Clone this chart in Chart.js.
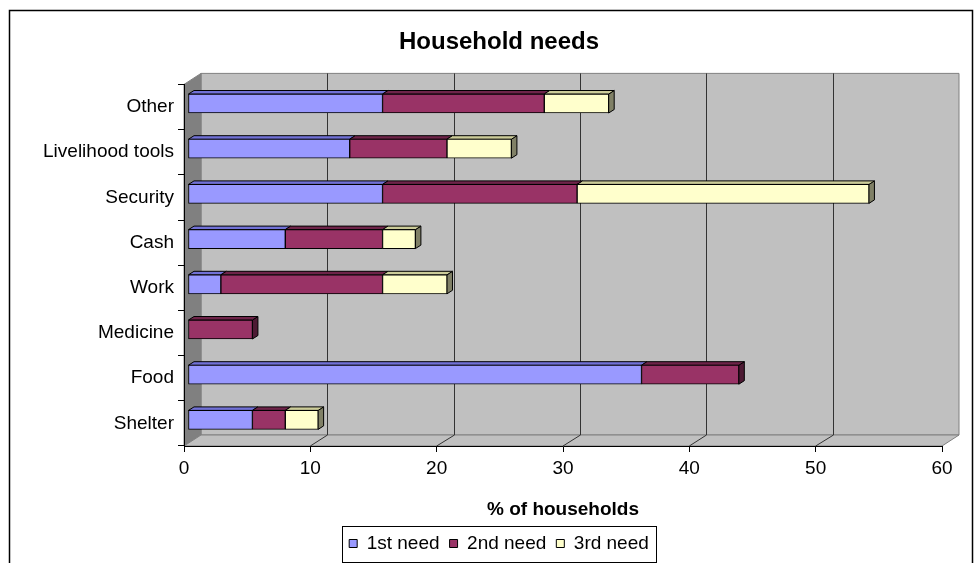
<!DOCTYPE html>
<html>
<head>
<meta charset="utf-8">
<title>Household needs</title>
<script src="https://cdn.jsdelivr.net/npm/chart.js@4.4.1/dist/chart.umd.min.js"></script>
<style>
  html, body { margin: 0; padding: 0; background: #fff; }
  #wrap { width: 976px; height: 563px; }
</style>
</head>
<body>
<div id="wrap"><canvas id="needsChart" width="976" height="563"></canvas></div>
<script>
// % of households naming each need, top row first
var categories = ["Other", "Livelihood tools", "Security", "Cash", "Work", "Medicine", "Food", "Shelter"];
var firstNeed = [15.4, 12.8, 15.4, 7.7, 2.6, 0, 35.9, 5.1];
var secondNeed = [12.8, 7.7, 15.4, 7.7, 12.8, 5.1, 7.7, 2.6];
var thirdNeed = [5.1, 5.1, 23.1, 2.6, 5.1, 0, 0, 2.6];
var seriesNames = ["1st need", "2nd need", "3rd need"];
var xTicks = [0, 10, 20, 30, 40, 50, 60];

var fills = ["#9999FF", "#993366", "#FFFFCC"];
var topFills = ["#7171D6", "#6E2449", "#CCCC99"];
var sideFills = ["#4C4C99", "#4D1A33", "#808066"];

var wallDepth = { x: 17, y: -11 };
var barShift = { x: 4, y: -3.5 };
var barDepth = { x: 5.5, y: -3.5 };
var fontFamily = "'Liberation Sans', Arial, sans-serif";

function poly(ctx, pts, fill, stroke) {
  ctx.beginPath();
  ctx.moveTo(pts[0][0], pts[0][1]);
  for (var i = 1; i < pts.length; i++) ctx.lineTo(pts[i][0], pts[i][1]);
  ctx.closePath();
  if (fill) { ctx.fillStyle = fill; ctx.fill(); }
  if (stroke) { ctx.strokeStyle = stroke; ctx.stroke(); }
}

// frame, walls, floor and back gridlines
var room = {
  id: "room",
  beforeDraw: function (chart) {
    var ctx = chart.ctx;
    var x = chart.scales.x;
    var area = chart.chartArea;
    var dx = wallDepth.x, dy = wallDepth.y;
    var x0 = x.getPixelForValue(xTicks[0]);
    var x1 = x.getPixelForValue(xTicks[xTicks.length - 1]);
    var top = area.top, bottom = area.bottom;

    ctx.save();
    ctx.fillStyle = "#fff";
    ctx.fillRect(0, 0, chart.width, chart.height);
    ctx.strokeStyle = "#000";
    ctx.lineWidth = 1.5;
    ctx.strokeRect(9.5, 10.5, 963, 620);

    ctx.lineWidth = 1;
    poly(ctx, [[x0 + dx, top + dy], [x1 + dx, top + dy], [x1 + dx, bottom + dy], [x0 + dx, bottom + dy]], "#C0C0C0", "#808080");
    poly(ctx, [[x0, top], [x0 + dx, top + dy], [x0 + dx, bottom + dy], [x0, bottom]], "#808080", "#808080");
    poly(ctx, [[x0, bottom], [x0 + dx, bottom + dy], [x1 + dx, bottom + dy], [x1, bottom]], "#C0C0C0", "#808080");

    ctx.strokeStyle = "#333";
    xTicks.slice(1, -1).forEach(function (v) {
      var px = x.getPixelForValue(v);
      var bx = Math.round(px + dx) + 0.5;
      ctx.beginPath();
      ctx.moveTo(bx, top + dy);
      ctx.lineTo(bx, bottom + dy);
      ctx.moveTo(px, bottom);
      ctx.lineTo(bx, bottom + dy);
      ctx.stroke();
    });
    ctx.restore();
  },
  // bar tops and end faces, bars sit a little behind the axis plane
  beforeDatasetsDraw: function (chart) {
    var ctx = chart.ctx;
    var metas = chart.data.datasets.map(function (d, i) { return chart.getDatasetMeta(i); });
    var bx = barDepth.x, by = barDepth.y;
    ctx.save();
    ctx.translate(barShift.x, barShift.y);
    ctx.lineWidth = 1;
    for (var j = 0; j < categories.length; j++) {
      var last = -1;
      metas.forEach(function (m, i) {
        var el = m.data[j];
        if (Math.abs(el.x - el.base) > 0.5) last = i;
      });
      if (last >= 0) {
        var e = metas[last].data[j];
        var t = e.y - e.height / 2, b = e.y + e.height / 2;
        var r = Math.max(e.x, e.base);
        poly(ctx, [[r, t], [r + bx, t + by], [r + bx, b + by], [r, b]], sideFills[last], "#000");
      }
      metas.forEach(function (m, i) {
        var el = m.data[j];
        if (Math.abs(el.x - el.base) <= 0.5) return;
        var t = el.y - el.height / 2;
        var l = Math.min(el.x, el.base), r = Math.max(el.x, el.base);
        poly(ctx, [[l, t], [l + bx, t + by], [r + bx, t + by], [r, t]], topFills[i], "#000");
      });
    }
  },
  afterDatasetsDraw: function (chart) {
    chart.ctx.restore();
  },
  afterDraw: function (chart) {
    var boxes = chart.legend.legendHitBoxes;
    if (!boxes || !boxes.length) return;
    var l = boxes[0].left, r = boxes[0].left + boxes[0].width;
    var t = boxes[0].top, b = boxes[0].top + boxes[0].height;
    boxes.forEach(function (h) {
      l = Math.min(l, h.left); r = Math.max(r, h.left + h.width);
      t = Math.min(t, h.top); b = Math.max(b, h.top + h.height);
    });
    var ctx = chart.ctx;
    ctx.save();
    ctx.strokeStyle = "#000";
    ctx.lineWidth = 1;
    ctx.strokeRect(Math.round(l - 7) + 0.5, Math.round(t - 8) + 0.5, Math.round(r - l + 14), Math.round(b - t + 17));
    ctx.restore();
  }
};

Chart.defaults.font.family = fontFamily;
Chart.defaults.color = "#000";

var seriesData = [firstNeed, secondNeed, thirdNeed];

new Chart("needsChart", {
  type: "bar",
  data: {
    labels: categories,
    datasets: seriesData.map(function (vals, i) {
      return {
        label: seriesNames[i],
        data: vals,
        backgroundColor: fills[i],
        borderColor: "#000",
        borderWidth: 1,
        borderSkipped: false,
        barThickness: 19
      };
    })
  },
  plugins: [room],
  options: {
    indexAxis: "y",
    responsive: false,
    devicePixelRatio: 1,
    animation: false,
    layout: { padding: { left: 22, right: 0, top: 0, bottom: 0 } },
    plugins: {
      title: {
        display: true,
        text: "Household needs",
        font: { size: 24, weight: "bold" },
        color: "#000",
        padding: { top: 28, bottom: 27.6 }
      },
      legend: {
        position: "bottom",
        labels: {
          boxWidth: 8,
          boxHeight: 8,
          padding: 10,
          font: { size: 19 },
          color: "#000"
        }
      },
      tooltip: { enabled: false }
    },
    scales: {
      x: {
        stacked: true,
        min: xTicks[0],
        max: xTicks[xTicks.length - 1],
        ticks: { stepSize: xTicks[1] - xTicks[0], font: { size: 19 }, padding: 5, maxRotation: 0 },
        grid: { drawOnChartArea: false, drawTicks: true, tickLength: 6, color: "#000" },
        border: { display: true, color: "#000" },
        title: {
          display: true,
          text: "% of households",
          font: { size: 19, weight: "bold" },
          padding: { top: 18.8, bottom: 2.6 }
        },
        afterFit: function (scale) { scale.height = 78; }
      },
      y: {
        stacked: true,
        ticks: { font: { size: 19 }, padding: 4 },
        grid: { drawOnChartArea: false, drawTicks: true, tickLength: 6, color: "#000", offset: true },
        border: { display: true, color: "#000" },
        afterFit: function (scale) { scale.width = 162; }
      },
      spare: {
        type: "linear",
        position: "right",
        display: true,
        ticks: { display: false },
        grid: { display: false },
        border: { display: false },
        afterFit: function (scale) { scale.width = 34; }
      }
    }
  }
});
</script>
</body>
</html>
